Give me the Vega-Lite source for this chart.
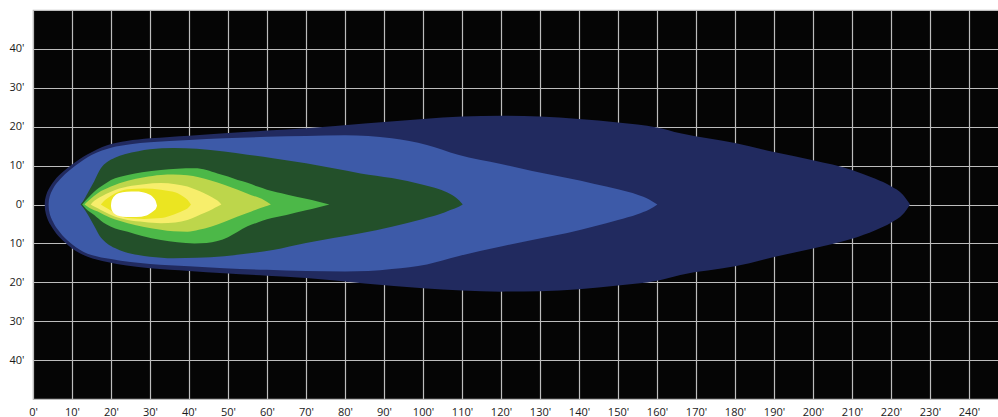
{
  "$schema": "https://vega.github.io/schema/vega-lite/v6.json",
  "autosize": "none",
  "width": 966,
  "height": 389,
  "padding": {"left": 33, "top": 10, "right": 0, "bottom": 18},
  "background": "#ffffff",
  "config": {
    "view": {"fill": "#050505", "stroke": "#bdbdbd", "strokeWidth": 1.2},
    "axis": {
      "domain": false,
      "ticks": false,
      "grid": true,
      "gridColor": "#bdbdbd",
      "gridWidth": 1.2,
      "gridOpacity": 1,
      "labelFont": "Open Sans",
      "labelFontSize": 11,
      "labelColor": "#1a1a1a",
      "title": null
    }
  },
  "datasets": {
    "navy": [
      {"x": 3, "hi": 0, "lo": 0},
      {"x": 3.05, "hi": 0.87, "lo": -0.97},
      {"x": 3.2, "hi": 1.75, "lo": -1.95},
      {"x": 3.5, "hi": 2.77, "lo": -3.1},
      {"x": 4, "hi": 3.9, "lo": -4.4},
      {"x": 4.7, "hi": 5.1, "lo": -5.6},
      {"x": 5.5, "hi": 6.2, "lo": -6.8},
      {"x": 6.5, "hi": 7.3, "lo": -8.1},
      {"x": 8, "hi": 8.7, "lo": -9.6},
      {"x": 10, "hi": 10.3, "lo": -11.3},
      {"x": 12, "hi": 11.7, "lo": -12.5},
      {"x": 14, "hi": 12.9, "lo": -13.4},
      {"x": 16.5, "hi": 14.2, "lo": -14.2},
      {"x": 19, "hi": 15.2, "lo": -14.8},
      {"x": 24, "hi": 16.3, "lo": -15.7},
      {"x": 30, "hi": 17.0, "lo": -16.4},
      {"x": 40, "hi": 17.7, "lo": -17.1},
      {"x": 49, "hi": 18.3, "lo": -17.7},
      {"x": 60, "hi": 19.0, "lo": -18.3},
      {"x": 70, "hi": 19.6, "lo": -18.9},
      {"x": 85, "hi": 20.8, "lo": -20.3},
      {"x": 100, "hi": 22.0, "lo": -21.5},
      {"x": 110, "hi": 22.6, "lo": -22.1},
      {"x": 120, "hi": 22.8, "lo": -22.4},
      {"x": 130, "hi": 22.6, "lo": -22.3},
      {"x": 140, "hi": 22.0, "lo": -21.8},
      {"x": 150, "hi": 21.1, "lo": -20.8},
      {"x": 160, "hi": 19.8, "lo": -19.6},
      {"x": 166, "hi": 18.3, "lo": -18.1},
      {"x": 180, "hi": 15.8, "lo": -15.9},
      {"x": 190, "hi": 13.5, "lo": -13.5},
      {"x": 200, "hi": 11.4, "lo": -11.3},
      {"x": 210, "hi": 8.9, "lo": -8.8},
      {"x": 216, "hi": 6.6, "lo": -6.6},
      {"x": 220, "hi": 4.7, "lo": -4.7},
      {"x": 223, "hi": 2.6, "lo": -2.6},
      {"x": 224.9, "hi": 0, "lo": 0}
    ],
    "blue": [
      {"x": 4, "hi": 0, "lo": 0},
      {"x": 4.05, "hi": 0.85, "lo": -0.94},
      {"x": 4.2, "hi": 1.7, "lo": -1.9},
      {"x": 4.5, "hi": 2.7, "lo": -3.0},
      {"x": 5, "hi": 3.8, "lo": -4.2},
      {"x": 5.7, "hi": 5.0, "lo": -5.5},
      {"x": 6.5, "hi": 6.0, "lo": -6.6},
      {"x": 7.5, "hi": 7.1, "lo": -7.9},
      {"x": 9, "hi": 8.5, "lo": -9.4},
      {"x": 11, "hi": 10.1, "lo": -11.0},
      {"x": 13, "hi": 11.5, "lo": -12.2},
      {"x": 15, "hi": 12.7, "lo": -13.0},
      {"x": 17.5, "hi": 13.8, "lo": -13.6},
      {"x": 20, "hi": 14.6, "lo": -14.0},
      {"x": 25, "hi": 15.5, "lo": -14.8},
      {"x": 30, "hi": 16.0, "lo": -15.3},
      {"x": 40, "hi": 16.6, "lo": -15.9},
      {"x": 49, "hi": 17.0, "lo": -16.4},
      {"x": 60, "hi": 17.4, "lo": -16.8},
      {"x": 70, "hi": 17.6, "lo": -17.1},
      {"x": 80, "hi": 17.8, "lo": -17.2},
      {"x": 86, "hi": 17.6, "lo": -17.1},
      {"x": 92, "hi": 17.0, "lo": -16.6},
      {"x": 101, "hi": 15.3, "lo": -15.4},
      {"x": 109, "hi": 12.8, "lo": -13.3},
      {"x": 120, "hi": 10.4, "lo": -10.8},
      {"x": 128, "hi": 8.6, "lo": -9.1},
      {"x": 137, "hi": 6.8, "lo": -7.3},
      {"x": 144, "hi": 5.3, "lo": -5.6},
      {"x": 150, "hi": 3.9, "lo": -4.0},
      {"x": 155, "hi": 2.5, "lo": -2.5},
      {"x": 158, "hi": 1.3, "lo": -1.3},
      {"x": 160.1, "hi": 0, "lo": 0}
    ],
    "darkgreen": [
      {"x": 12.2, "hi": 0, "lo": 0},
      {"x": 12.8, "hi": 0.8, "lo": -0.7},
      {"x": 14, "hi": 2.9, "lo": -2.5},
      {"x": 15.7, "hi": 6.0, "lo": -5.5},
      {"x": 17.4, "hi": 9.3, "lo": -8.5},
      {"x": 19, "hi": 10.9, "lo": -10},
      {"x": 21, "hi": 12.0, "lo": -11.2},
      {"x": 23.5, "hi": 12.9, "lo": -12.2},
      {"x": 27, "hi": 13.7, "lo": -13},
      {"x": 30, "hi": 14.2, "lo": -13.4},
      {"x": 36, "hi": 14.5, "lo": -13.8},
      {"x": 42, "hi": 14.3, "lo": -13.7},
      {"x": 49, "hi": 13.6, "lo": -13.3},
      {"x": 55, "hi": 12.8, "lo": -12.6},
      {"x": 61.5, "hi": 11.9, "lo": -11.7},
      {"x": 70, "hi": 10.6, "lo": -9.9},
      {"x": 77, "hi": 9.3, "lo": -8.6},
      {"x": 84, "hi": 8.0, "lo": -7.4},
      {"x": 92, "hi": 6.8, "lo": -5.7},
      {"x": 100, "hi": 5.1, "lo": -3.7},
      {"x": 104, "hi": 4.0, "lo": -2.6},
      {"x": 107, "hi": 2.7, "lo": -1.4},
      {"x": 109.3, "hi": 1.0, "lo": -0.5},
      {"x": 110.2, "hi": 0, "lo": 0}
    ],
    "green": [
      {"x": 12.6, "hi": 0, "lo": 0},
      {"x": 13.5, "hi": 1.0, "lo": -1.0},
      {"x": 15.7, "hi": 3.3, "lo": -2.7},
      {"x": 18, "hi": 5.0, "lo": -4.6},
      {"x": 20, "hi": 6.3, "lo": -5.7},
      {"x": 24.3, "hi": 7.6, "lo": -7.0},
      {"x": 28, "hi": 8.3, "lo": -8.1},
      {"x": 32.8, "hi": 8.9, "lo": -9.1},
      {"x": 37, "hi": 9.2, "lo": -9.7},
      {"x": 41.4, "hi": 9.3, "lo": -10.0},
      {"x": 44.5, "hi": 8.9, "lo": -9.9},
      {"x": 47.3, "hi": 8.0, "lo": -9.4},
      {"x": 50, "hi": 7.2, "lo": -8.4},
      {"x": 52.5, "hi": 6.3, "lo": -7.0},
      {"x": 55, "hi": 5.6, "lo": -5.6},
      {"x": 57.6, "hi": 4.6, "lo": -4.6},
      {"x": 60, "hi": 3.8, "lo": -3.8},
      {"x": 65, "hi": 2.6, "lo": -2.7},
      {"x": 70, "hi": 1.5, "lo": -1.5},
      {"x": 73, "hi": 0.8, "lo": -0.8},
      {"x": 76, "hi": 0, "lo": 0}
    ],
    "yellowgreen": [
      {"x": 13.2, "hi": 0, "lo": 0},
      {"x": 14.5, "hi": 1.2, "lo": -0.9},
      {"x": 16.6, "hi": 2.9, "lo": -1.8},
      {"x": 20, "hi": 4.6, "lo": -3.5},
      {"x": 24.3, "hi": 6.1, "lo": -4.8},
      {"x": 28.5, "hi": 7.0, "lo": -5.8},
      {"x": 32.8, "hi": 7.6, "lo": -6.5},
      {"x": 36, "hi": 7.7, "lo": -6.9},
      {"x": 39.6, "hi": 7.5, "lo": -7.0},
      {"x": 42.5, "hi": 7.0, "lo": -6.5},
      {"x": 45.6, "hi": 6.2, "lo": -5.7},
      {"x": 49, "hi": 5.1, "lo": -4.5},
      {"x": 52.5, "hi": 3.8, "lo": -3.1},
      {"x": 56, "hi": 2.4, "lo": -1.8},
      {"x": 59.3, "hi": 1.1, "lo": -0.6},
      {"x": 61, "hi": 0, "lo": 0}
    ],
    "paleyellow": [
      {"x": 14.8, "hi": 0, "lo": 0},
      {"x": 15.8, "hi": 1.0, "lo": -0.6},
      {"x": 17.4, "hi": 2.0, "lo": -1.4},
      {"x": 20, "hi": 3.3, "lo": -2.7},
      {"x": 24.3, "hi": 4.6, "lo": -4.0},
      {"x": 28.5, "hi": 5.2, "lo": -4.5},
      {"x": 32.8, "hi": 5.5, "lo": -4.8},
      {"x": 36.5, "hi": 5.2, "lo": -4.6},
      {"x": 39.6, "hi": 4.6, "lo": -4.0},
      {"x": 42, "hi": 3.7, "lo": -3.0},
      {"x": 43.9, "hi": 2.9, "lo": -2.2},
      {"x": 46, "hi": 1.8, "lo": -1.2},
      {"x": 47.3, "hi": 1.0, "lo": -0.5},
      {"x": 48.3, "hi": 0, "lo": 0}
    ],
    "yellow": [
      {"x": 17.4, "hi": 0, "lo": 0},
      {"x": 18.2, "hi": 0.9, "lo": -0.5},
      {"x": 19.1, "hi": 1.6, "lo": -1.0},
      {"x": 21, "hi": 2.8, "lo": -2.2},
      {"x": 24.3, "hi": 3.9, "lo": -3.5},
      {"x": 28.5, "hi": 4.1, "lo": -3.7},
      {"x": 32.8, "hi": 3.8, "lo": -3.5},
      {"x": 35.2, "hi": 3.4, "lo": -2.9},
      {"x": 37.1, "hi": 2.9, "lo": -2.2},
      {"x": 38.7, "hi": 1.9, "lo": -1.5},
      {"x": 39.6, "hi": 1.2, "lo": -1.0},
      {"x": 40.5, "hi": 0, "lo": 0}
    ],
    "white": [
      {"x": 20.0, "hi": -0.3, "lo": -0.3},
      {"x": 20.1, "hi": 0.7, "lo": -1.1},
      {"x": 20.4, "hi": 1.5, "lo": -1.8},
      {"x": 20.9, "hi": 2.2, "lo": -2.4},
      {"x": 21.9, "hi": 2.9, "lo": -2.9},
      {"x": 24.0, "hi": 3.3, "lo": -3.2},
      {"x": 26.5, "hi": 3.35, "lo": -3.2},
      {"x": 29.1, "hi": 2.9, "lo": -2.8},
      {"x": 30.3, "hi": 2.3, "lo": -2.1},
      {"x": 31.0, "hi": 1.6, "lo": -1.6},
      {"x": 31.5, "hi": 0.8, "lo": -1.1},
      {"x": 31.8, "hi": -0.3, "lo": -0.3}
    ]
  },
  "encoding": {
    "x": {
      "field": "x",
      "type": "quantitative",
      "scale": {"domain": [0, 247.7], "nice": false, "zero": false},
      "axis": {
        "values": [0, 10, 20, 30, 40, 50, 60, 70, 80, 90, 100, 110, 120, 130, 140, 150, 160, 170, 180, 190, 200, 210, 220, 230, 240],
        "labelExpr": "datum.value + \"'\"",
        "labelPadding": 7,
        "labelFlush": false,
        "labelOverlap": false
      }
    },
    "y": {
      "field": "hi",
      "type": "quantitative",
      "scale": {"domain": [-50, 50], "nice": false, "zero": false},
      "axis": {
        "values": [-40, -30, -20, -10, 0, 10, 20, 30, 40],
        "labelExpr": "abs(datum.value) + \"'\"",
        "labelPadding": 9,
        "labelOverlap": false
      }
    },
    "y2": {"field": "lo"}
  },
  "layer": [
    {"data": {"name": "navy"}, "mark": {"type": "area", "interpolate": "monotone", "color": "#212a5f"}},
    {"data": {"name": "blue"}, "mark": {"type": "area", "interpolate": "monotone", "color": "#3d5aa8"}},
    {"data": {"name": "darkgreen"}, "mark": {"type": "area", "interpolate": "monotone", "color": "#23502a"}},
    {"data": {"name": "green"}, "mark": {"type": "area", "interpolate": "monotone", "color": "#4cb848"}},
    {"data": {"name": "yellowgreen"}, "mark": {"type": "area", "interpolate": "monotone", "color": "#bdd64b"}},
    {"data": {"name": "paleyellow"}, "mark": {"type": "area", "interpolate": "monotone", "color": "#f7ee6b"}},
    {"data": {"name": "yellow"}, "mark": {"type": "area", "interpolate": "monotone", "color": "#ebe521"}},
    {"data": {"name": "white"}, "mark": {"type": "area", "interpolate": "monotone", "color": "#ffffff"}}
  ]
}
